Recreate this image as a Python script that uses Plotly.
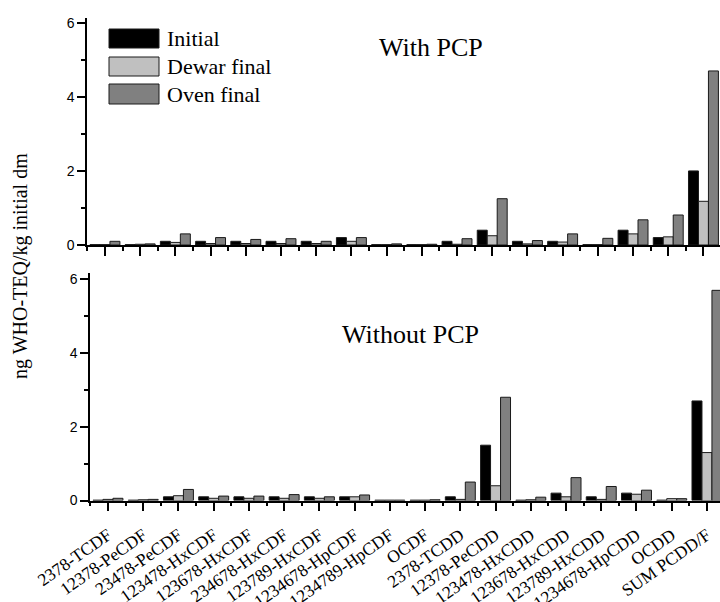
import plotly.graph_objects as go

categories = ["2378-TCDF", "12378-PeCDF", "23478-PeCDF", "123478-HxCDF", "123678-HxCDF",
              "234678-HxCDF", "123789-HxCDF", "1234678-HpCDF", "1234789-HpCDF", "OCDF",
              "2378-TCDD", "12378-PeCDD", "123478-HxCDD", "123678-HxCDD", "123789-HxCDD",
              "1234678-HpCDD", "OCDD", "SUM PCDD/F"]

series_names = ["Initial", "Dewar final", "Oven final"]

with_initial = [0.01, 0.01, 0.10, 0.10, 0.10, 0.10, 0.10, 0.20, 0.01, 0.01, 0.10, 0.40, 0.10, 0.10, 0.01, 0.40, 0.20, 2.00]
with_dewar   = [0.01, 0.02, 0.07, 0.04, 0.04, 0.04, 0.04, 0.10, 0.01, 0.01, 0.02, 0.25, 0.03, 0.08, 0.01, 0.30, 0.22, 1.18]
with_oven    = [0.10, 0.03, 0.30, 0.20, 0.15, 0.17, 0.10, 0.20, 0.03, 0.02, 0.17, 1.25, 0.12, 0.30, 0.18, 0.68, 0.81, 4.70]

without_initial = [0.01, 0.01, 0.10, 0.10, 0.10, 0.10, 0.10, 0.10, 0.01, 0.01, 0.10, 1.50, 0.01, 0.20, 0.10, 0.20, 0.01, 2.70]
without_dewar   = [0.03, 0.02, 0.13, 0.06, 0.06, 0.06, 0.06, 0.10, 0.01, 0.01, 0.03, 0.40, 0.02, 0.10, 0.03, 0.17, 0.05, 1.30]
without_oven    = [0.06, 0.03, 0.30, 0.12, 0.12, 0.16, 0.10, 0.15, 0.01, 0.02, 0.50, 2.80, 0.09, 0.62, 0.38, 0.28, 0.05, 5.70]

y_ticks = [0, 2, 4, 6]

colors = ["#000000", "#c0c0c0", "#808080"]
W, H = 720, 602
serif = "Liberation Serif, Times New Roman, serif"
sans = "Liberation Sans, Arial, sans-serif"

xpos = list(range(len(categories)))

fig = go.Figure()
panels = [
    ("x", "y", [with_initial, with_dewar, with_oven]),
    ("x2", "y2", [without_initial, without_dewar, without_oven]),
]
for xa, ya, data in panels:
    for name, vals, col in zip(series_names, data, colors):
        fig.add_trace(go.Bar(
            x=xpos, y=vals, name=name, xaxis=xa, yaxis=ya,
            marker=dict(color=col, line=dict(color="#1a1a1a", width=1)),
            showlegend=False,
        ))

def px_x(p):
    return p / W

def px_y(p):
    return 1 - p / H

xcommon = dict(
    showline=True, linecolor="black", linewidth=1.5, showgrid=False, zeroline=False,
    ticks="outside", ticklen=9, tickwidth=1.5, tickcolor="black",
    tickmode="array", tickvals=xpos, ticktext=categories,
    minor=dict(ticks="outside", ticklen=4, tickwidth=1.5, tickcolor="black",
               tickmode="linear", tick0=0.5, dtick=1),
    automargin=False,
)
ycommon = dict(
    showline=True, linecolor="black", linewidth=1.5, showgrid=False, zeroline=False,
    ticks="outside", ticklen=8, tickwidth=1.5, tickcolor="black",
    tickmode="array", tickvals=y_ticks,
    minor=dict(ticks="outside", ticklen=4, tickwidth=1.5, tickcolor="black",
               tickmode="linear", tick0=1, dtick=2),
    tickfont=dict(family=sans, size=14, color="black"),
    automargin=False,
)

fig.update_layout(
    width=W, height=H,
    margin=dict(l=0, r=0, t=0, b=0),
    paper_bgcolor="white", plot_bgcolor="white",
    barmode="group", bargap=0.15, bargroupgap=0,
    showlegend=False,
    xaxis=dict(xcommon, domain=[px_x(87), 1.0], range=[-0.51, 17.47],
               anchor="y", showticklabels=False),
    yaxis=dict(ycommon, domain=[px_y(245), px_y(18)], range=[0, 6.13], anchor="x"),
    xaxis2=dict(xcommon, domain=[px_x(90), 1.0], range=[-0.51, 17.37],
                anchor="y2", showticklabels=True, tickangle=-35,
                ticklabelstandoff=7,
                tickfont=dict(family=serif, size=17.5, color="black")),
    yaxis2=dict(ycommon, domain=[px_y(500.5), px_y(273)], range=[0, 6.17], anchor="x2"),
)

annotations = [
    dict(text="With PCP", x=px_x(431), y=px_y(47), xref="paper", yref="paper",
         showarrow=False, xanchor="center", yanchor="middle",
         font=dict(family=serif, size=26, color="black")),
    dict(text="Without PCP", x=px_x(410), y=px_y(334), xref="paper", yref="paper",
         showarrow=False, xanchor="center", yanchor="middle",
         font=dict(family=serif, size=26, color="black")),
    dict(text="ng WHO-TEQ/kg initial dm", x=px_x(20), y=px_y(266), xref="paper", yref="paper",
         showarrow=False, xanchor="center", yanchor="middle", textangle=-90,
         font=dict(family=serif, size=20, color="black")),
]

# manual legend (large swatches as in the original)
legend_rows = [(29, 48), (57, 76), (84, 104)]
shapes = []
for (top, bot), name, col in zip(legend_rows, series_names, colors):
    shapes.append(dict(type="rect", xref="paper", yref="paper",
                       x0=px_x(109), x1=px_x(159), y0=px_y(bot), y1=px_y(top),
                       fillcolor=col, line=dict(color="#1a1a1a", width=1)))
    annotations.append(dict(text=name, x=px_x(165), y=px_y((top + bot) / 2),
                            xref="paper", yref="paper", showarrow=False,
                            xanchor="left", yanchor="middle",
                            font=dict(family=serif, size=22, color="black")))

fig.update_layout(annotations=annotations, shapes=shapes)

fig.write_html(
    "out.html",
    config={"displayModeBar": False},
    default_width=f"{W}px", default_height=f"{H}px",
    post_script="document.body.style.margin='0px';document.body.style.overflow='hidden';",
)
